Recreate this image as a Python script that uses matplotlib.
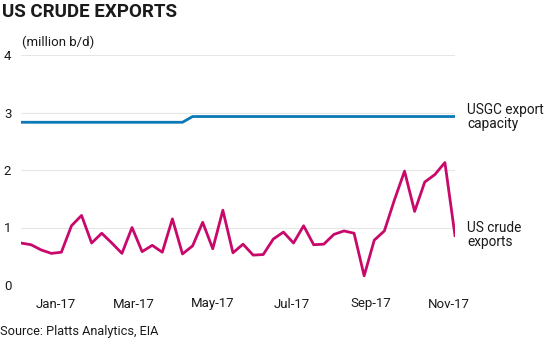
import numpy as np
import matplotlib
matplotlib.use('Agg')
import matplotlib.pyplot as plt

# weekly US crude exports, million b/d
exports = [0.73, 0.70, 0.61, 0.55, 0.57, 1.03, 1.21, 0.73, 0.90, 0.73,
           0.55, 1.00, 0.58, 0.69, 0.57, 1.15, 0.54, 0.68, 1.09, 0.63,
           1.30, 0.56, 0.71, 0.52, 0.53, 0.80, 0.92, 0.73, 1.03, 0.70,
           0.71, 0.88, 0.94, 0.90, 0.16, 0.78, 0.94, 1.48, 1.98, 1.28,
           1.79, 1.92, 2.13, 0.86]
# USGC export capacity, million b/d
capacity = [2.83] * 17 + [2.93] * 27

month_labels = ['Jan-17', 'Mar-17', 'May-17', 'Jul-17', 'Sep-17', 'Nov-17']
month_pos = [3.4, 11.2, 19.0, 26.8, 34.7, 42.4]

pink = '#c8096b'
blue = '#0a79b5'
txt = '#1a1a1a'

plt.rcParams['font.family'] = ['Roboto', 'DejaVu Sans']

fig = plt.figure(figsize=(5.5, 3.4), dpi=100)
ax = fig.add_axes([21/550, 1-285/340, (455-21)/550, (285-55)/340])

x = np.arange(len(exports))
ax.plot(x, capacity, color=blue, lw=2.0, solid_joinstyle='round')
ax.plot(x, exports, color=pink, lw=2.0, solid_joinstyle='round')

ax.set_xlim(0, len(exports)-1)
ax.set_ylim(0, 4)
ax.set_yticks([0, 1, 2, 3, 4])
ax.grid(axis='y', color='#e6e6e6', lw=0.8)
ax.set_axisbelow(True)
for s in ax.spines.values():
    s.set_visible(False)
ax.set_xticks(month_pos)
ax.set_xticklabels(month_labels)
ax.tick_params(axis='both', length=0, labelsize=9.5, colors=txt)
ax.tick_params(axis='y', pad=7)
ax.tick_params(axis='x', pad=9)

fig.text(0.004, 1-12/340, 'US CRUDE EXPORTS', fontsize=13.5, fontweight='bold',
         color=txt, va='center', ha='left')
fig.text(22/550, 1-42/340, '(million b/d)', fontsize=9.5, color=txt,
         va='center', ha='left')
fig.text(0.0, 1-331/340, 'Source: Platts Analytics, EIA', fontsize=9.2,
         color=txt, va='center', ha='left')

fig.text(467/550, 1-117/340, 'USGC export\ncapacity', fontsize=9.8,
         color=txt, va='center', ha='left', linespacing=0.95)
fig.text(467/550, 1-235/340, 'US crude\nexports', fontsize=9.8,
         color=txt, va='center', ha='left', linespacing=0.95)

fig.savefig('out.png', dpi=100)
